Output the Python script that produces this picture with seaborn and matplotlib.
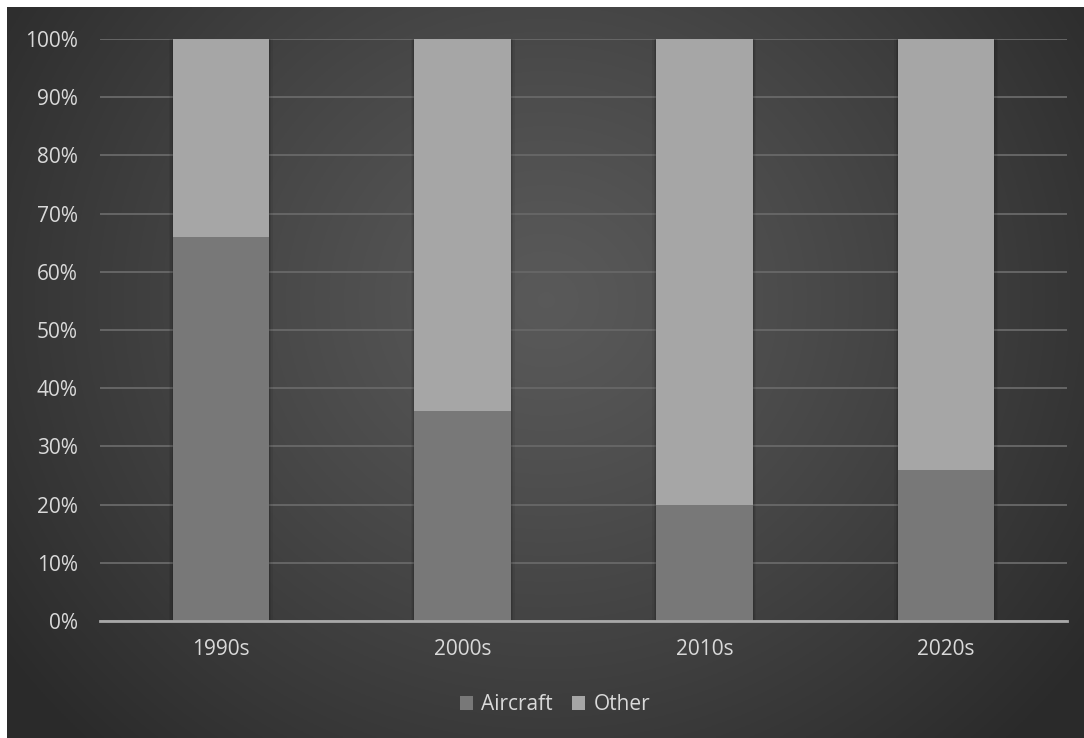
import numpy as np
import pandas as pd
import matplotlib
matplotlib.use("Agg")
import matplotlib.pyplot as plt
import seaborn as sns

# Share of each decade split between aircraft and everything else
decades = ["1990s", "2000s", "2010s", "2020s"]
aircraft = [66, 36, 20, 26]
other = [34, 64, 80, 74]
y_ticks = [0, 10, 20, 30, 40, 50, 60, 70, 80, 90, 100]

sns.set_theme(style="dark")
plt.rcParams["font.family"] = ["Open Sans", "DejaVu Sans"]

W, H = 1084, 738
fig = plt.figure(figsize=(W / 100, H / 100), dpi=100)
fig.patch.set_facecolor("white")

# Dark radial-gradient backdrop
bg = fig.add_axes([7 / W, 0, 1 - 7 / W, 1 - 7 / H], zorder=-5)
ny, nx = 400, 600
yy, xx = np.mgrid[0:ny, 0:nx]
cx, cy = nx * 0.50, ny * 0.40
r = np.sqrt(((xx - cx) / (nx * 0.62)) ** 2 + ((yy - cy) / (ny * 0.85)) ** 2)
r = np.clip(r, 0, 1)
shade = 0.35 - (0.35 - 0.165) * r ** 1.2
bg.imshow(np.dstack([shade] * 3), aspect="auto", extent=[0, 1, 0, 1])
bg.set_axis_off()

df = pd.DataFrame({"decade": decades, "Aircraft": aircraft, "Other": other})
df["total"] = df["Aircraft"] + df["Other"]

ax = fig.add_axes([100 / W, (H - 621) / H, (1067 - 100) / W, (621 - 39) / H])
ax.set_facecolor("none")

bar_w = 0.40
# Soft shadow around the bars
for i in range(len(decades)):
    for k, a in ((0.03, 0.06), (0.018, 0.08), (0.008, 0.10)):
        ax.bar(i, 100, width=bar_w + k, color="black", alpha=a,
               zorder=1.5, linewidth=0)

sns.barplot(data=df, x="decade", y="total", color="#a6a6a6", width=bar_w,
            ax=ax, zorder=2, linewidth=0, saturation=1, label="Other")
sns.barplot(data=df, x="decade", y="Aircraft", color="#787878", width=bar_w,
            ax=ax, zorder=3, linewidth=0, saturation=1, label="Aircraft")

handles, labels = ax.get_legend_handles_labels()
if ax.get_legend() is not None:
    ax.get_legend().remove()

ax.set_xlim(-0.5, len(decades) - 0.5)
ax.set_ylim(0, 100)
ax.set_yticks(y_ticks)
ax.set_yticklabels([f"{v}%" for v in y_ticks])
ax.set_xlabel("")
ax.set_ylabel("")
ax.grid(axis="y", color="#666666", linewidth=1.4, zorder=0)
ax.grid(axis="x", visible=False)
ax.set_axisbelow(True)
for s in ["top", "right", "left"]:
    ax.spines[s].set_visible(False)
ax.spines["bottom"].set_color("#a8a8a8")
ax.spines["bottom"].set_linewidth(2)
ax.spines["bottom"].set_zorder(5)
ax.tick_params(axis="both", length=0, colors="#d9d9d9", labelsize=15)
ax.tick_params(axis="y", pad=16)
ax.tick_params(axis="x", pad=13)

order = [labels.index("Aircraft"), labels.index("Other")]
leg = fig.legend([handles[i] for i in order], [labels[i] for i in order],
                 loc="center", bbox_to_anchor=(555 / W, 1 - 705 / H), ncol=2,
                 frameon=False, fontsize=15, handlelength=0.65, handleheight=0.65,
                 handletextpad=0.4, columnspacing=0.9)
for t in leg.get_texts():
    t.set_color("#d9d9d9")

fig.savefig("out.png", dpi=100, facecolor=fig.get_facecolor())
